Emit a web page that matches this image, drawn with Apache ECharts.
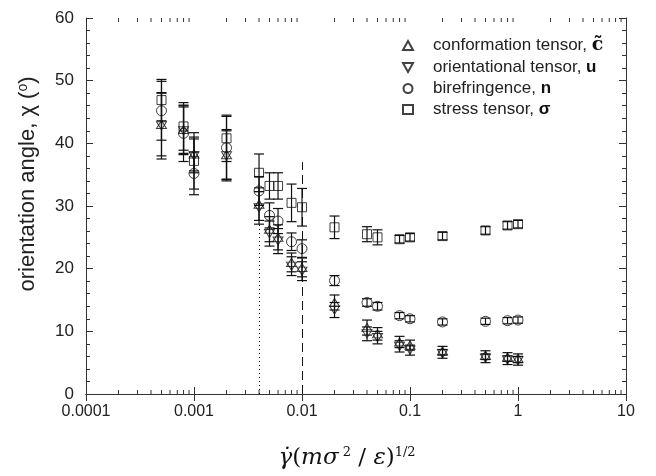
<!DOCTYPE html>
<html>
<head>
<meta charset="utf-8">
<script src="https://cdn.jsdelivr.net/npm/echarts@6/dist/echarts.min.js"></script>
<style>html,body{margin:0;padding:0;background:#fff}#c{width:656px;height:476px}</style>
</head>
<body>
<div id="c"></div>
<script>
// ---- data ----
var shearRates = [0.0005,0.0008,0.001,0.002,0.004,0.005,0.006,0.008,0.01,0.02,0.04,0.05,0.08,0.1,0.2,0.5,0.8,1.0];
var conformation = [43.0,42.2,38.3,38.2,30.3,26.3,25.0,21.0,20.2,14.6,10.6,9.6,8.3,7.8,6.9,6.2,5.9,5.7];
var conformationErr = [5.0,3.8,2.7,4.0,2.6,2.0,2.0,1.5,1.5,1.2,1.2,1.0,0.9,0.8,0.7,0.7,0.7,0.7];
var orientational = [42.8,42.0,38.0,38.0,29.7,25.6,24.4,20.4,19.6,13.4,9.6,9.0,7.6,7.0,6.4,5.7,5.4,5.3];
var orientationalErr = [5.3,3.8,2.7,4.0,2.6,2.0,2.0,1.5,1.5,1.2,1.1,1.0,0.9,0.8,0.7,0.7,0.7,0.7];
var birefringence = [45.2,41.6,35.2,39.3,32.4,28.5,27.6,24.3,23.2,18.1,14.6,14.0,12.5,12.0,11.5,11.6,11.7,11.8];
var birefringenceErr = [4.7,4.5,3.4,5.0,2.3,2.0,2.0,1.4,1.4,0.8,0.6,0.6,0.5,0.5,0.5,0.5,0.5,0.5];
var stress = [46.9,42.7,37.2,40.8,35.3,33.2,33.2,30.5,29.8,26.6,25.5,25.0,24.7,25.0,25.2,26.1,26.9,27.1];
var stressErr = [3.3,3.8,4.5,3.7,3.0,2.1,2.1,3.0,3.0,1.8,1.2,1.2,0.6,0.6,0.6,0.6,0.6,0.6];
var xTickLabels = ['0.0001','0.001','0.01','0.1','1','10'];
var xMinorTickValues = [];
[0.0001,0.001,0.01,0.1,1].forEach(function(d){ for (var k=2;k<=9;k++) xMinorTickValues.push(+(d*k).toPrecision(3)); });
var dottedLineX = 0.004, dottedLineTop = 27;
var dashedLineX = 0.01, dashedLineTop = 37;

var names = ['conformation tensor','orientational tensor','birefringence','stress tensor'];
var seriesVals = [conformation, orientational, birefringence, stress];
var seriesErrs = [conformationErr, orientationalErr, birefringenceErr, stressErr];
var symbols = ['path://M5,0 L10,9 L0,9 Z','path://M0,0 L10,0 L5,9 Z','circle','rect'];
var sizes = [[10,9],[10,9],10,9];
var legendLabels = {
  'conformation tensor': '{a|conformation tensor, }{c|c\u0303}',
  'orientational tensor': '{a|orientational tensor, }{b|u}',
  'birefringence': '{a|birefringence, }{b|n}',
  'stress tensor': '{a|stress tensor, }{b|\u03c3}'
};

var chart = echarts.init(document.getElementById('c'), null, {renderer:'canvas'});
var FONT = 'Liberation Sans, Arial, sans-serif';
var SERIF = 'DejaVu Serif, Liberation Serif, serif';

var series = [];
// error bars
seriesVals.forEach(function(vals, si){
  var errs = seriesErrs[si];
  series.push({
    type:'custom', name: names[si] + ' err', xAxisIndex:0, yAxisIndex:0, silent:true, z:2,
    data: shearRates.map(function(x,i){ return [x, vals[i]-errs[i], vals[i]+errs[i]]; }),
    renderItem: function(params, api){
      var lo = api.coord([api.value(0), api.value(1)]);
      var hi = api.coord([api.value(0), api.value(2)]);
      var w = 5;
      var st = {stroke:'#111', lineWidth:1.2};
      return {type:'group', children:[
        {type:'line', shape:{x1:lo[0],y1:lo[1],x2:hi[0],y2:hi[1]}, style:st},
        {type:'line', shape:{x1:lo[0]-w,y1:lo[1],x2:lo[0]+w,y2:lo[1]}, style:st},
        {type:'line', shape:{x1:hi[0]-w,y1:hi[1],x2:hi[0]+w,y2:hi[1]}, style:st}
      ]};
    }
  });
});
// markers
seriesVals.forEach(function(vals, si){
  series.push({
    type:'scatter', name:names[si], symbol:symbols[si], symbolSize:sizes[si], symbolKeepAspect:true,
    itemStyle:{color:'rgba(255,255,255,0)', borderColor:'#111', borderWidth:1},
    z:3,
    data: shearRates.map(function(x,i){ return [x, vals[i]]; })
  });
});
// x minor ticks (bottom & top)
series.push({
  type:'custom', silent:true, z:4,
  data: xMinorTickValues.map(function(v){ return [v]; }),
  renderItem: function(params, api){
    var b = api.coord([api.value(0), 0]);
    var t = api.coord([api.value(0), 60]);
    var st = {stroke:'#333', lineWidth:1};
    return {type:'group', children:[
      {type:'line', shape:{x1:b[0],y1:b[1],x2:b[0],y2:b[1]-4}, style:st},
      {type:'line', shape:{x1:t[0],y1:t[1],x2:t[0],y2:t[1]+4}, style:st}
    ]};
  }
});
// reference vertical lines
series.push({
  type:'line', data:[], silent:true,
  markLine:{silent:true, symbol:'none', label:{show:false},
    data:[[{coord:[dottedLineX,0]},{coord:[dottedLineX,dottedLineTop]}]],
    lineStyle:{type:[1,3], color:'#111', width:1}
  }
});
series.push({
  type:'line', data:[], silent:true,
  markLine:{silent:true, symbol:'none', label:{show:false},
    data:[[{coord:[dashedLineX,0]},{coord:[dashedLineX,dashedLineTop]}]],
    lineStyle:{type:[9,5], color:'#111', width:1}
  }
});

var option = {
  animation:false,
  backgroundColor:'#fff',
  grid:{left:86, right:30, top:18, bottom:82, containLabel:false},
  legend:{
    data:names, orient:'vertical', left:397, top:31, itemWidth:10, itemHeight:9, itemGap:4,
    formatter:function(n){ return legendLabels[n]; },
    textStyle:{fontFamily:FONT, fontSize:17, color:'#222',
      rich:{
        a:{fontFamily:FONT, fontSize:17, color:'#222', padding:[0,0,0,15]},
        b:{fontFamily:FONT, fontSize:17, fontWeight:'bold', color:'#111'},
        c:{fontFamily:SERIF, fontSize:19, fontWeight:'bold', color:'#111'}
      }
    },
    selectedMode:false
  },
  xAxis:[{
    type:'log', logBase:10, min:0.0001, max:10, position:'bottom',
    axisLine:{lineStyle:{color:'#333', width:1}},
    axisTick:{inside:true, length:7, lineStyle:{color:'#333'}},
    axisLabel:{fontFamily:FONT, fontSize:16, color:'#222', margin:10,
      formatter:function(v){ var i=Math.round(Math.log10(v))+4; return xTickLabels[i]; }},
    splitLine:{show:false},
    name:'{i|\u03b3\u0307}{r|(}{i|m\u03c3}{s| 2}{r| / }{i|\u03b5}{r|)}{s|1/2}',
    nameLocation:'middle', nameGap:52,
    nameTextStyle:{padding:[0,18,0,0], rich:{
      i:{fontFamily:SERIF, fontStyle:'italic', fontSize:23, color:'#111'},
      r:{fontFamily:SERIF, fontSize:23, color:'#111'},
      s:{fontFamily:SERIF, fontSize:13, color:'#111', verticalAlign:'top', padding:[0,0,12,0]}
    }}
  },{
    type:'log', logBase:10, min:0.0001, max:10, position:'top',
    axisLine:{lineStyle:{color:'#333', width:1}},
    axisTick:{inside:true, length:7, lineStyle:{color:'#333'}},
    axisLabel:{show:false}, splitLine:{show:false}
  }],
  yAxis:[{
    type:'value', min:0, max:60, interval:10, position:'left',
    axisLine:{show:true, lineStyle:{color:'#333', width:1}},
    axisTick:{inside:true, length:7, lineStyle:{color:'#333'}},
    minorTick:{show:true, splitNumber:5, length:4, lineStyle:{color:'#333'}},
    axisLabel:{fontFamily:FONT, fontSize:17, color:'#222', margin:12},
    splitLine:{show:false},
    name:'{a|orientation angle, \u03c7 (}{s|o}{a|)}',
    nameLocation:'middle', nameGap:46, nameRotate:90,
    nameTextStyle:{padding:[0,0,0,44], rich:{
      a:{fontFamily:FONT, fontSize:22, color:'#222'},
      s:{fontFamily:FONT, fontSize:14, color:'#222', verticalAlign:'top', padding:[0,0,10,0]}
    }}
  },{
    type:'value', min:0, max:60, interval:10, position:'right',
    axisLine:{show:true, lineStyle:{color:'#333', width:1}},
    axisTick:{inside:true, length:7, lineStyle:{color:'#333'}},
    minorTick:{show:true, splitNumber:5, length:4, lineStyle:{color:'#333'}},
    axisLabel:{show:false}, splitLine:{show:false}
  }],
  series:series
};
chart.setOption(option);
</script>
</body>
</html>
